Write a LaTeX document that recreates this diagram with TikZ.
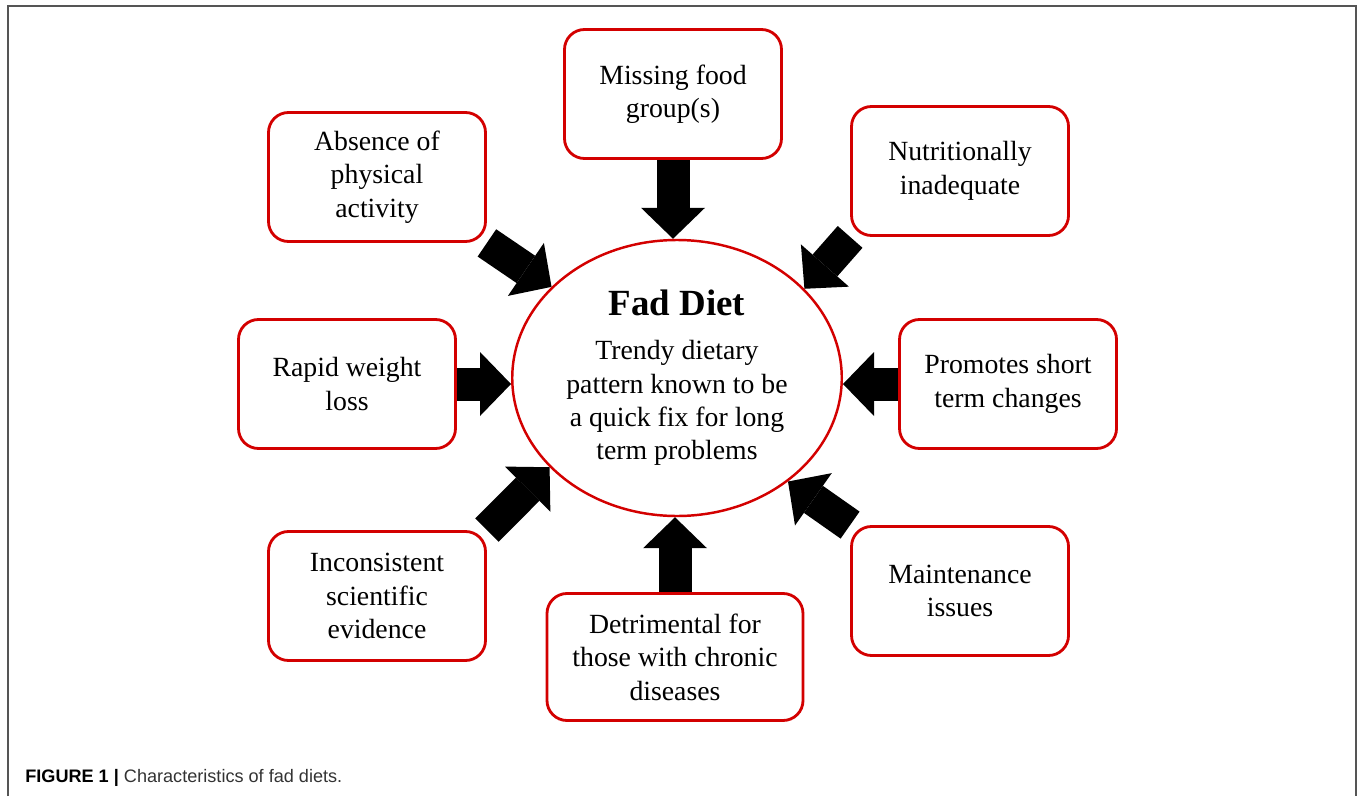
\documentclass[tikz,border=0pt]{standalone}
\usepackage{xcolor}
\usepackage{fontspec}
\setmainfont{Liberation Serif}
\newfontfamily\capfont{Liberation Sans}
\usepackage{tikz}
\usetikzlibrary{shapes.geometric,arrows.meta,backgrounds}
\definecolor{R0}{HTML}{D30000}
\definecolor{G0}{HTML}{555555}
\definecolor{C0}{HTML}{333333}
\tikzset{%
  trait/.style={draw=R0, line width=1.6pt, rounded corners=0.4cm, fill=white, minimum width=4.34cm, minimum height=2.58cm, align=center, font=\fontsize{15.8}{19}\selectfont},%
  core/.style={ellipse, draw=R0, line width=1.4pt, fill=white, minimum width=6.48cm, minimum height=5.52cm, align=center, font=\fontsize{15.8}{19}\selectfont},%
  push/.style={line width=0.66cm, -{Triangle[width=1.28cm, length=0.62cm, line width=0pt]}},%
}
\begin{document}
\begin{tikzpicture}%
\useasboundingbox (0,0) rectangle (27.14,15.92);%
\draw[G0, line width=0.9pt] (0.16,0) -- (0.16,15.80) -- (27.12,15.80) -- (27.12,0);%
\node[core] (fad) at (13.54, 8.36) {{\fontsize{21}{25}\selectfont\bfseries Fad Diet}\\[6pt] Trendy dietary\\ pattern known to be\\ a quick fix for long\\ term problems};%
\node[trait] (missing) at (13.46, 14.04) {Missing food\\ group(s)};%
\node[trait] (absence) at (7.54, 12.38) {Absence of\\ physical\\ activity};%
\node[trait] (nutrition) at (19.20, 12.50) {Nutritionally\\ inadequate};%
\node[trait] (rapid) at (6.94, 8.24) {Rapid weight\\ loss};%
\node[trait] (promotes) at (20.16, 8.24) {Promotes short\\ term changes};%
\node[trait] (inconsistent) at (7.54, 4.00) {Inconsistent\\ scientific\\ evidence};%
\node[trait, minimum width=5.12cm, minimum height=2.54cm] (detrimental) at (13.50, 2.78) {Detrimental for\\ those with chronic\\ diseases};%
\node[trait] (maintenance) at (19.20, 4.10) {Maintenance\\ issues};%
\begin{scope}[on background layer]%
\draw[push] (missing.south) -- (missing.south |- fad.north);%
\draw[push] (detrimental.north) -- (detrimental.north |- fad.south);%
\draw[push] (rapid.east) -- (rapid.east -| fad.west);%
\draw[push] (promotes.west) -- (promotes.west -| fad.east);%
\draw[push] (absence.south east) -- (fad.144);%
\draw[push] (nutrition.south west) -- (fad.35);%
\draw[push] (inconsistent.north east) -- (fad.215);%
\draw[push] (maintenance.north west) -- (fad.-43);%
\end{scope}%
\node[anchor=base west, font=\capfont\fontsize{10.3}{12}\selectfont, text=C0, inner sep=0pt] (caption) at (0.50, 0.28) {\textbf{\color{black}FIGURE 1 |} Characteristics of fad diets.};%
\end{tikzpicture}
\end{document}
